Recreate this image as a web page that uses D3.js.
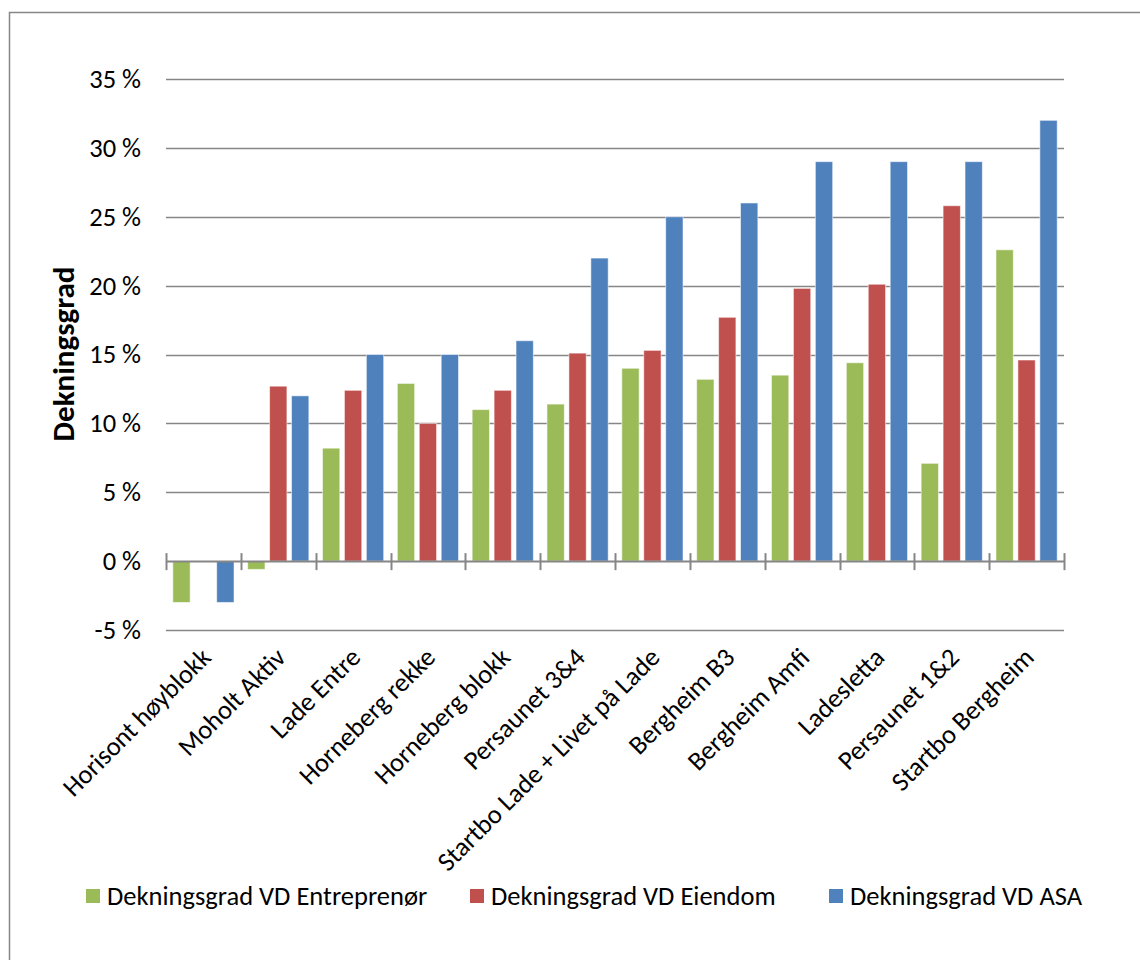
<!DOCTYPE html>
<html>
<head>
<meta charset="utf-8">
<title>Dekningsgrad</title>
<script src="https://cdnjs.cloudflare.com/ajax/libs/d3/7.8.5/d3.min.js"></script>
<style>
  body { margin: 0; background: #fff; }
  svg { display: block; font-family: Carlito, Calibri, Lato, sans-serif; }
</style>
</head>
<body>
<svg width="1140" height="960"></svg>
<script>
// data (percent)
const categories = ["Horisont høyblokk", "Moholt Aktiv", "Lade Entre", "Horneberg rekke",
  "Horneberg blokk", "Persaunet 3&4", "Startbo Lade + Livet på Lade", "Bergheim B3",
  "Bergheim Amfi", "Ladesletta", "Persaunet 1&2", "Startbo Bergheim"];
const seriesNames = ["Dekningsgrad VD Entreprenør", "Dekningsgrad VD Eiendom", "Dekningsgrad VD ASA"];
const entreprenor = [-3.0, -0.6, 8.2, 12.9, 11.0, 11.4, 14.0, 13.2, 13.5, 14.4, 7.1, 22.6];
const eiendom     = [0, 12.7, 12.4, 10.0, 12.4, 15.1, 15.3, 17.7, 19.8, 20.1, 25.8, 14.6];
const asa         = [-3.0, 12.0, 15.0, 15.0, 16.0, 22.0, 25.0, 26.0, 29.0, 29.0, 29.0, 32.0];
const yTicks = [-5, 0, 5, 10, 15, 20, 25, 30, 35];
const colors = ["#9BBB59", "#C0504D", "#4F81BD"];

const allSeries = [entreprenor, eiendom, asa];
const rows = categories.map((c, i) => ({
  cat: c,
  vals: seriesNames.map((s, j) => ({ s: s, j: j, v: allSeries[j][i] }))
}));

const svg = d3.select("svg");
const plotL = 166, plotR = 1064, plotT = 79, plotB = 630;
const fs = 26.5;

// outer chart border
svg.append("rect").attr("x", 9.5).attr("y", 12.5).attr("width", 1140).attr("height", 960)
  .attr("fill", "none").attr("stroke", "#868686").attr("stroke-width", 1.5);

const x0 = d3.scaleBand().domain(categories).range([plotL, plotR]).padding(0);
const inset = x0.bandwidth() * 0.091;
const x1 = d3.scaleBand().domain(seriesNames).range([inset, x0.bandwidth() - inset]).paddingInner(0.21);
const y = d3.scaleLinear().domain([-5, 35]).range([plotB, plotT]);

// gridlines
svg.append("g").selectAll("line").data(yTicks.filter(t => t !== 0)).join("line")
  .attr("x1", plotL).attr("x2", plotR)
  .attr("y1", d => Math.round(y(d)) + 0.5).attr("y2", d => Math.round(y(d)) + 0.5)
  .attr("stroke", "#868686").attr("stroke-width", 1.3);

// y tick labels
const yAxis = d3.axisLeft(y).tickValues(yTicks).tickSize(0).tickPadding(25)
  .tickFormat(d => d + " %");
svg.append("g").attr("transform", `translate(${plotL},0)`).call(yAxis)
  .call(g => g.select(".domain").remove())
  .selectAll("text").attr("font-size", fs).attr("fill", "#000")
  .attr("font-family", "Carlito, Calibri, Lato, sans-serif");

// bars
svg.append("g").selectAll("g").data(rows).join("g")
  .attr("transform", d => `translate(${x0(d.cat)},0)`)
  .selectAll("rect").data(d => d.vals.filter(v => v.v !== 0)).join("rect")
  .attr("x", d => x1(d.s))
  .attr("width", x1.bandwidth())
  .attr("y", d => y(Math.max(0, d.v)))
  .attr("height", d => Math.abs(y(d.v) - y(0)))
  .attr("fill", d => colors[d.j])
  .attr("stroke", "rgba(255,255,255,0.55)").attr("stroke-width", 1);

// category axis at 0
const xAxisG = svg.append("g");
xAxisG.append("line").attr("x1", plotL).attr("x2", plotR)
  .attr("y1", Math.round(y(0)) + 0.5).attr("y2", Math.round(y(0)) + 0.5)
  .attr("stroke", "#868686").attr("stroke-width", 2);
const boundaries = categories.map(c => x0(c)).concat([plotR]);
xAxisG.selectAll(".tk").data(boundaries).join("line").attr("class", "tk")
  .attr("x1", d => Math.round(d) + 0.5).attr("x2", d => Math.round(d) + 0.5)
  .attr("y1", y(0) - 8).attr("y2", y(0) + 9)
  .attr("stroke", "#868686").attr("stroke-width", 2);

// category labels, rotated
svg.append("g").selectAll("text").data(categories).join("text")
  .attr("transform", d => `translate(${x0(d) + x0.bandwidth() / 2 + 9},${659}) rotate(-45)`)
  .attr("text-anchor", "end")
  .attr("font-size", fs)
  .text(d => d);

// y axis title
svg.append("text")
  .attr("transform", `translate(74,354) rotate(-90)`)
  .attr("text-anchor", "middle")
  .attr("font-size", 31).attr("font-weight", "bold")
  .text("Dekningsgrad");

// legend
const legendX = [86, 470, 829];
const lg = svg.append("g").selectAll("g").data(seriesNames).join("g")
  .attr("transform", (d, i) => `translate(${legendX[i]},889)`);
lg.append("rect").attr("width", 14).attr("height", 14).attr("fill", (d, i) => colors[i]);
lg.append("text").attr("x", 21).attr("y", 16).attr("font-size", fs).text(d => d);
</script>
</body>
</html>
